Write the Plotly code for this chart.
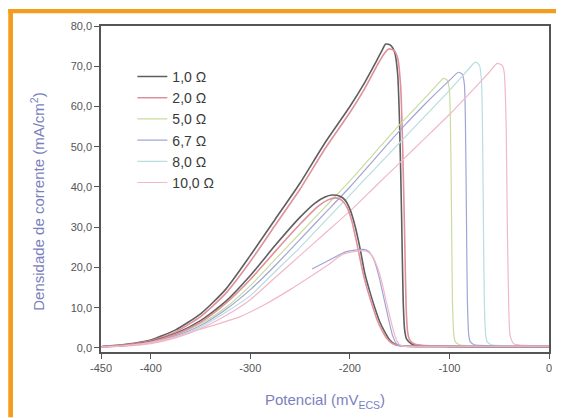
import plotly.graph_objects as go

# forward scans (potential in mV vs ECS, current density in mA/cm2)
fwd_10_x = [-450, -425, -400, -375, -350, -325, -300, -275, -250, -225, -200, -185, -175, -168, -164,
            -159, -155, -152, -150, -148, -146.5, -145, -143, -138, -130, -100, -50, 0]
fwd_10_y = [0.3, 0.9, 2.0, 4.5, 8.5, 14.5, 23, 32, 41, 51, 60, 66, 70.5, 73.8, 75.5,
            75.2, 73.5, 68, 55, 32, 12, 4.5, 2.2, 1.0, 0.6, 0.4, 0.3, 0.3]

fwd_20_x = [-450, -425, -400, -375, -350, -325, -300, -275, -250, -225, -200, -185, -172, -165, -161,
            -156, -152, -149, -147, -145, -143.5, -142, -140, -135, -125, -100, -50, 0]
fwd_20_y = [0.3, 0.8, 1.8, 4.0, 7.8, 13.5, 21.5, 30.5, 39.5, 49.5, 58.5, 64.5, 70.5, 73.3, 74.3,
            74, 72, 65, 50, 28, 10, 4, 2, 1.0, 0.6, 0.5, 0.4, 0.4]

fwd_50_x = [-450, -425, -400, -375, -350, -325, -300, -275, -250, -225, -200, -175, -150, -125, -112,
            -106, -102, -100, -99, -98, -97, -95.5, -94, -90, -80, -50, 0]
fwd_50_y = [0.2, 0.6, 1.4, 3.2, 6.0, 10, 15.5, 22, 28.5, 35, 41.5, 48.5, 55.5, 62, 65.5,
            67, 66.5, 64, 56, 35, 12, 3, 1.5, 0.8, 0.6, 0.5, 0.4]

fwd_67_x = [-450, -425, -400, -375, -350, -325, -300, -275, -250, -225, -200, -175, -150, -125, -100,
            -91, -87, -85, -84, -83, -82, -80.5, -79, -75, -60, 0]
fwd_67_y = [0.2, 0.6, 1.3, 3.0, 5.6, 9.5, 14.5, 20.5, 27, 33.5, 40, 47, 54, 60.5, 66.5,
            68.5, 68, 65.5, 57, 35, 12, 3, 1.5, 0.8, 0.6, 0.5]

fwd_80_x = [-450, -425, -400, -375, -350, -325, -300, -275, -250, -225, -200, -175, -150, -125, -100,
            -80, -74, -70, -68, -67, -66, -65, -63.5, -62, -58, -40, 0]
fwd_80_y = [0.2, 0.5, 1.2, 2.7, 5.2, 8.8, 13, 19, 25, 31.5, 38, 44.5, 51, 57.5, 64,
            69.5, 71, 70.3, 67, 58, 35, 12, 3, 1.5, 0.8, 0.6, 0.5]

fwd_100_x = [-450, -425, -400, -375, -350, -325, -300, -275, -250, -225, -200, -175, -150, -125, -100,
             -75, -60, -52, -47, -45, -44, -43, -42, -40.5, -39, -35, -20, 0]
fwd_100_y = [0.2, 0.5, 1.1, 2.5, 4.8, 8.0, 12, 17.5, 23, 28.5, 34, 40, 46, 52, 58,
             64.5, 68.5, 70.7, 70.2, 68.5, 64, 55, 33, 11, 3, 1.0, 0.6, 0.5]

# reverse scans
rev_10_x = [0, -100, -140, -150, -155, -160, -165, -170, -175, -180, -185, -190, -195, -200, -205,
            -210, -218, -225, -235, -250, -275, -300, -325, -350, -375, -400, -425, -450]
rev_10_y = [0.3, 0.3, 0.4, 0.6, 1.0, 2.0, 4.0, 6.5, 10, 14, 18.5, 25, 30.5, 34.5, 36.8,
            37.7, 38, 37.5, 36, 32.5, 25.5, 18, 11.5, 6.8, 3.6, 1.6, 0.7, 0.3]

rev_20_x = [0, -100, -143, -153, -158, -163, -168, -173, -178, -183, -188, -193, -198, -203, -208,
            -214, -222, -232, -250, -275, -300, -325, -350, -375, -400, -425, -450]
rev_20_y = [0.4, 0.4, 0.5, 0.7, 1.2, 2.4, 4.5, 7.2, 11, 15, 20, 26, 31.5, 35, 36.7,
            37.3, 36.8, 35.2, 30.8, 24, 17, 11, 6.4, 3.4, 1.5, 0.7, 0.3]

rev_67_x = [0, -100, -148, -153, -157, -161, -166, -171, -176, -181, -186, -195, -205, -221, -238]
rev_67_y = [0.4, 0.4, 0.5, 1.0, 3, 7, 12.5, 18, 22, 24, 24.5, 24.3, 23.8, 21.8, 19.6]

rev_100_x = [0, -100, -145, -150, -154, -158, -163, -168, -173, -178, -183, -188, -195, -208, -221,
             -238, -260, -284, -310, -351, -375, -400, -425, -450]
rev_100_y = [0.3, 0.3, 0.4, 0.8, 2.5, 6, 11, 16.5, 20.5, 23, 24, 24.2, 24, 23.2, 20.8,
             18, 14.5, 11, 7.8, 4.6, 2.8, 1.4, 0.6, 0.2]

names = ["1,0 Ω", "2,0 Ω", "5,0 Ω", "6,7 Ω", "8,0 Ω", "10,0 Ω"]
colors = ["#5f5f5f", "#e0909a", "#c9dc9c", "#a2a4d6", "#b9dde0", "#f0b8c8"]

x_ticks = [-450, -400, -300, -200, -100, 0]
x_labels = ["-450", "-400", "-300", "-200", "-100", "0"]
y_ticks = [0, 10, 20, 30, 40, 50, 60, 70, 80]
y_labels = ["0,0", "10,0", "20,0", "30,0", "40,0", "50,0", "60,0", "70,0", "80,0"]

forward = [(fwd_10_x, fwd_10_y), (fwd_20_x, fwd_20_y), (fwd_50_x, fwd_50_y),
           (fwd_67_x, fwd_67_y), (fwd_80_x, fwd_80_y), (fwd_100_x, fwd_100_y)]
reverse = {0: (rev_10_x, rev_10_y), 1: (rev_20_x, rev_20_y),
           3: (rev_67_x, rev_67_y), 5: (rev_100_x, rev_100_y)}

fig = go.Figure()
for i, (xs, ys) in enumerate(forward):
    w = 1.6 if i < 2 else 1.2
    fig.add_trace(go.Scatter(x=xs, y=ys, mode="lines", name=names[i], legendgroup=names[i],
                             line=dict(color=colors[i], width=w, shape="spline", smoothing=0.6)))
for i, (xs, ys) in reverse.items():
    w = 1.6 if i < 2 else 1.2
    fig.add_trace(go.Scatter(x=xs, y=ys, mode="lines", name=names[i], legendgroup=names[i],
                             showlegend=False,
                             line=dict(color=colors[i], width=w, shape="spline", smoothing=0.6)))

# orange frame (top and left bands); page has an 8px body margin
orange = "#f39c1e"
fig.add_shape(type="rect", xref="paper", yref="paper", x0=-0.207, x1=1.03, y0=1.039, y1=1.052,
              fillcolor=orange, line_width=0, layer="below")
fig.add_shape(type="rect", xref="paper", yref="paper", x0=-0.207, x1=-0.1965, y0=-0.2, y1=1.052,
              fillcolor=orange, line_width=0, layer="below")

# y-axis title sits a little below the plot centre in the original
fig.add_annotation(text="Densidade de corrente (mA/cm<sup>2</sup>)", textangle=-90,
                   xref="paper", yref="paper", x=-0.142, y=0.462, showarrow=False,
                   xanchor="center", yanchor="middle", font=dict(size=15, color="#7b7fc0"))

fig.update_layout(
    width=556, height=410,
    margin=dict(l=93, r=13, t=17, b=63),
    paper_bgcolor="white", plot_bgcolor="white",
    font=dict(family="Liberation Sans, Arial", color="#555555", size=11),
    legend=dict(x=0.07, y=0.893, xanchor="left", yanchor="top", bgcolor="rgba(0,0,0,0)",
                font=dict(size=14, color="#3a3a3a"), tracegroupgap=0),
    xaxis=dict(range=[-450, 0], tickvals=x_ticks, ticktext=x_labels, ticks="outside", ticklen=5,
               tickwidth=1.2, tickcolor="#555", showline=True, linecolor="#555", linewidth=1.5,
               mirror=True, showgrid=False, zeroline=False,
               title=dict(text="Potencial (mV<sub>ECS</sub>)", font=dict(size=15, color="#7b7fc0"),
                          standoff=22)),
    yaxis=dict(range=[-1, 80], tickvals=y_ticks, ticktext=y_labels, ticks="outside", ticklen=5,
               tickwidth=1.2, tickcolor="#555", showline=True, linecolor="#555", linewidth=1.5,
               mirror=True, showgrid=False, zeroline=False),
)

fig.write_html("out.html")
